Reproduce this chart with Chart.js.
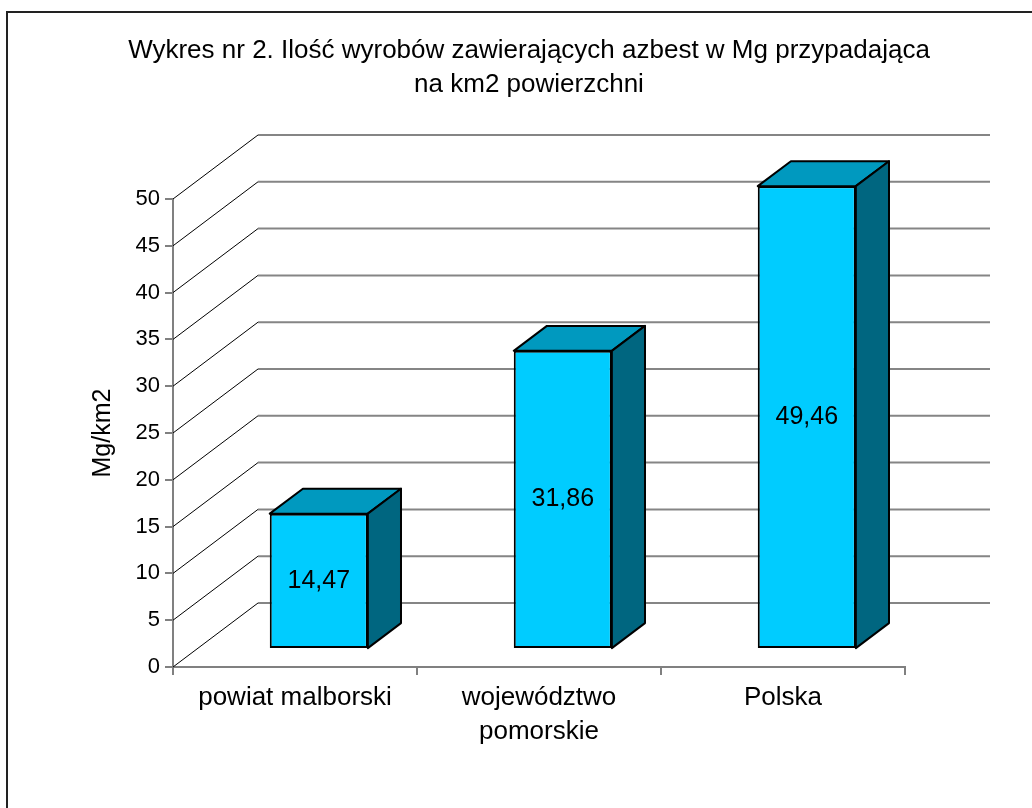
<!DOCTYPE html>
<html>
<head>
<meta charset="utf-8">
<script src="https://cdn.jsdelivr.net/npm/chart.js@4/dist/chart.umd.min.js"></script>
<style>
  html, body { margin: 0; padding: 0; background: #fff; }
  #wrap { width: 1032px; height: 808px; }
</style>
</head>
<body>
<div id="wrap"><canvas id="barChart"></canvas></div>
<script>
const categories = ["powiat malborski", ["województwo", "pomorskie"], "Polska"];
const values = [14.47, 31.86, 49.46];
const yMin = 0, yMax = 50, yStep = 5;

const titleLines = [
	"Wykres nr 2. Ilość wyrobów zawierających azbest w Mg przypadająca",
	"na km2 powierzchni",
];
const yTitle = "Mg/km2";

const FONT = "'Liberation Sans', Arial, sans-serif";

// depth of the 3D box: back wall offset, and where the bars sit inside it
const wallDX = 85, wallDY = -64;
const barFront = 0.28, barBack = 0.67;

const fmt = (v) => v.toFixed(2).replace(".", ",");

const box3d = {
	id: "box3d",
	beforeDraw(chart) {
		const ctx = chart.ctx;
		ctx.save();
		ctx.fillStyle = "#fff";
		ctx.fillRect(0, 0, chart.width, chart.height);
		ctx.strokeStyle = "#222";
		ctx.lineWidth = 2;
		ctx.strokeRect(7, 12, chart.width + 40, chart.height + 40);
		ctx.restore();
	},
	beforeDatasetsDraw(chart) {
		const ctx = chart.ctx;
		const y = chart.scales.y;
		const area = chart.chartArea;
		ctx.save();
		for (let v = yMin; v <= yMax; v += yStep) {
			const py = y.getPixelForValue(v);
			ctx.beginPath();
			ctx.strokeStyle = "#000";
			ctx.lineWidth = 1;
			ctx.moveTo(area.left, py);
			ctx.lineTo(area.left + wallDX, py + wallDY);
			ctx.stroke();
			ctx.beginPath();
			ctx.strokeStyle = "#858585";
			ctx.lineWidth = 2;
			ctx.moveTo(area.left + wallDX, py + wallDY);
			ctx.lineTo(area.right + wallDX, py + wallDY);
			ctx.stroke();
		}
		ctx.restore();
		// move the bars back into the box
		ctx.save();
		ctx.translate(wallDX * barFront, wallDY * barFront);
	},
	afterDatasetsDraw(chart) {
		const ctx = chart.ctx;
		const ox = wallDX * (barBack - barFront);
		const oy = wallDY * (barBack - barFront);
		const meta = chart.getDatasetMeta(0);
		meta.data.forEach((bar, i) => {
			const p = bar.getProps(["x", "y", "base", "width"], true);
			const l = p.x - p.width / 2, r = p.x + p.width / 2;
			const t = p.y, b = p.base;
			ctx.lineJoin = "round";
			ctx.lineWidth = 2;
			ctx.strokeStyle = "#000";
			// top
			ctx.beginPath();
			ctx.moveTo(l, t);
			ctx.lineTo(l + ox, t + oy);
			ctx.lineTo(r + ox, t + oy);
			ctx.lineTo(r, t);
			ctx.closePath();
			ctx.fillStyle = "#0099BF";
			ctx.fill();
			ctx.stroke();
			// side
			ctx.beginPath();
			ctx.moveTo(r, t);
			ctx.lineTo(r + ox, t + oy);
			ctx.lineTo(r + ox, b + oy);
			ctx.lineTo(r, b);
			ctx.closePath();
			ctx.fillStyle = "#006680";
			ctx.fill();
			ctx.stroke();
			// value
			ctx.fillStyle = "#000";
			ctx.font = "25px " + FONT;
			ctx.textAlign = "center";
			ctx.textBaseline = "middle";
			ctx.fillText(fmt(values[i]), p.x, (t + b) / 2);
		});
		ctx.restore();
	},
};

const data = {
	labels: categories,
	datasets: [
		{
			data: values,
			backgroundColor: "#00CCFF",
			borderColor: "#000",
			borderWidth: 2,
			borderSkipped: false,
			barPercentage: 0.402,
			categoryPercentage: 1,
			clip: false,
		},
	],
};

const config = {
	type: "bar",
	data: data,
	plugins: [box3d],
	options: {
		responsive: false,
		animation: false,
		events: [],
		layout: { padding: { left: 26, right: 0, top: 0, bottom: 0 } },
		plugins: {
			legend: { display: false },
			tooltip: { enabled: false },
			title: {
				display: true,
				text: titleLines,
				color: "#000",
				font: { family: FONT, size: 26, weight: "normal", lineHeight: 34 / 26 },
				padding: { top: 34, bottom: 97 },
			},
		},
		scales: {
			x: {
				offset: true,
				grid: { offset: true, drawOnChartArea: false, tickLength: 8, color: "#808080", lineWidth: 2 },
				border: { display: true, color: "#808080", width: 2 },
				ticks: {
					color: "#000",
					padding: 6,
					maxRotation: 0,
					font: { family: FONT, size: 26, lineHeight: 34 / 26 },
				},
				afterFit(s) { s.height = 141; },
			},
			y: {
				min: yMin,
				max: yMax,
				grid: { drawOnChartArea: false, tickLength: 8, color: "#808080", lineWidth: 2 },
				border: { display: true, color: "#808080", width: 2 },
				ticks: {
					stepSize: yStep,
					color: "#000",
					padding: 5,
					font: { family: FONT, size: 22 },
				},
				title: {
					display: true,
					text: yTitle,
					color: "#000",
					padding: { top: 62, bottom: 0 },
					font: { family: FONT, size: 25 },
				},
				afterFit(s) { s.width = 147; },
			},
			yR: {
				position: "right",
				display: true,
				grid: { display: false },
				border: { display: false },
				ticks: { display: false },
				afterFit(s) { s.width = 127; },
			},
		},
	},
};

const canvas = document.getElementById("barChart");
canvas.width = 1032;
canvas.height = 808;
const barChart = new Chart(canvas.getContext("2d"), config);
</script>
</body>
</html>
